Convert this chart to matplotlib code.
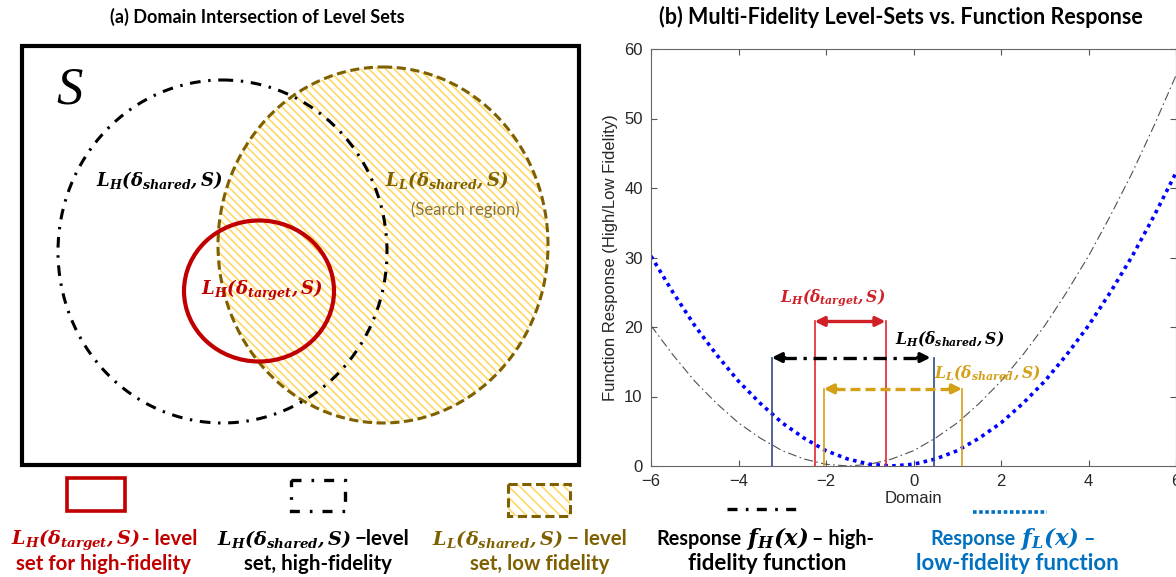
import matplotlib
matplotlib.use('Agg')
import matplotlib.pyplot as plt
from matplotlib.patches import Ellipse, Rectangle

plt.rcParams['mathtext.fontset'] = 'custom'
plt.rcParams['mathtext.rm'] = 'DejaVu Serif'
plt.rcParams['mathtext.it'] = 'DejaVu Serif:italic'
plt.rcParams['mathtext.bf'] = 'DejaVu Serif:bold'
plt.rcParams['mathtext.bfit'] = 'DejaVu Serif:bold:italic'
plt.rcParams['hatch.linewidth'] = 1.2

# ---- data ----
DOMAIN = [-6.0, -5.5, -5.0, -4.5, -4.0, -3.5, -3.0, -2.5, -2.0, -1.5, -1.0, -0.5,
          0.0, 0.5, 1.0, 1.5, 2.0, 2.5, 3.0, 3.5, 4.0, 4.5, 5.0, 5.5, 6.0]
F_HIGH = [20.2, 16.0, 12.2, 9.0, 6.2, 4.0, 2.2, 1.0, 0.25, 0.0, 0.25, 1.0,
          2.2, 4.0, 6.2, 9.0, 12.2, 16.0, 20.2, 25.0, 30.2, 36.0, 42.2, 49.0, 56.2]
F_LOW = [30.2, 25.0, 20.2, 16.0, 12.2, 9.0, 6.2, 4.0, 2.2, 1.0, 0.25, 0.0,
         0.25, 1.0, 2.2, 4.0, 6.2, 9.0, 12.2, 16.0, 20.2, 25.0, 30.2, 36.0, 42.2]

LH_TARGET = [-2.26, -0.64]   # interval ends
LH_TARGET_Y = 20.8
LH_SHARED = [-3.24, 0.47]
LH_SHARED_Y = 15.6
LL_SHARED = [-2.05, 1.11]
LL_SHARED_Y = 11.1

XTICKS = [-6, -4, -2, 0, 2, 4, 6]
YTICKS = [0, 10, 20, 30, 40, 50, 60]

RED = '#C00000'
OLIVE = '#7F6000'
HATCH = '#FFD966'
GOLD = '#D4A017'
NAVY = '#2F4A8A'
BLUE_TXT = '#0070C0'
SANS = 'Lato'

M_TARGET = r'$\mathbfit{L_H(\delta_{target}, S)}$'
M_HSHARED = r'$\mathbfit{L_H(\delta_{shared}, S)}$'
M_LSHARED = r'$\mathbfit{L_L(\delta_{shared}, S)}$'

W, H = 1176, 577
fig = plt.figure(figsize=(W / 100, H / 100), dpi=100)

# overlay in pixel coordinates for the sketch (a) and the legend row
bg = fig.add_axes([0, 0, 1, 1])
bg.set_xlim(0, W)
bg.set_ylim(H, 0)
bg.axis('off')

bg.text(257, 17, '(a) Domain Intersection of Level Sets', ha='center', va='center',
        fontsize=13, fontweight='bold', family=SANS)
bg.text(901, 17, '(b) Multi-Fidelity Level-Sets vs. Function Response', ha='center', va='center',
        fontsize=15.5, fontweight='bold', family=SANS)

bg.add_patch(Rectangle((22, 46), 557, 419, fill=False, lw=3, ec='black'))
# low fidelity set: hatched fill + dashed edge
bg.add_patch(Ellipse((383, 245), 330, 356, fill=False, hatch='\\\\\\\\', ec=HATCH, lw=0))
bg.add_patch(Ellipse((383, 245), 330, 356, fill=False, ec=OLIVE, lw=2.2, ls=(0, (3, 1.5))))
bg.add_patch(Ellipse((222.5, 251.5), 329, 343, fill=False, ec='black', lw=2.2,
                     ls=(0, (3.5, 2.5, 0.8, 2.5))))
bg.add_patch(Ellipse((259, 291), 150, 141, fill=False, ec=RED, lw=3))

bg.text(70, 91, 'S', ha='center', va='center', fontsize=38, style='italic', family='Liberation Serif')
bg.text(159, 180, M_HSHARED, ha='center', va='center', fontsize=13)
bg.text(447, 180, M_LSHARED, ha='center', va='center', fontsize=13, color=OLIVE)
bg.text(465, 210, '(Search region)', ha='center', va='center', fontsize=12, family=SANS, color='#8c7436')
bg.text(262, 290, M_TARGET, ha='center', va='center', fontsize=13, color=RED)

# legend row, left part
bg.add_patch(Rectangle((67, 478), 58, 33, fill=False, ec=RED, lw=2.6))
bg.add_patch(Rectangle((291, 480), 54, 31, fill=False, ec='black', lw=2.4, ls=(0, (3, 3, 0.8, 3))))
bg.add_patch(Rectangle((508, 484), 62, 32, fill=False, hatch='\\\\\\', ec=HATCH, lw=0))
bg.add_patch(Rectangle((508, 484), 62, 32, fill=False, ec=OLIVE, lw=2.2, ls=(0, (3, 1.5))))

L1, L2 = 545, 570
lk = dict(va='baseline', fontsize=14.8, fontweight='bold', family=SANS)
mk = dict(va='baseline', fontsize=13.8)
bg.text(141, L1, M_TARGET, ha='right', color=RED, **mk)
bg.text(142, L1, '- level', ha='left', color=RED, **lk)
bg.text(104, L2, 'set for high-fidelity', ha='center', color=RED, **lk)
bg.text(352, L1, M_HSHARED, ha='right', color='black', **mk)
bg.text(355, L1, '\u2212level', ha='left', color='black', **lk)
bg.text(318, L2, 'set, high-fidelity', ha='center', color='black', **lk)
bg.text(563, L1, M_LSHARED, ha='right', color=OLIVE, **mk)
bg.text(567, L1, '\u2212 level', ha='left', color=OLIVE, **lk)
bg.text(540, L2, 'set, low fidelity', ha='center', color=OLIVE, **lk)

# legend row, right part
rk = dict(va='baseline', fontsize=16, fontweight='bold', family=SANS)
rk1 = dict(rk, fontsize=14.3)
rm = dict(va='baseline', fontsize=16.5)
bg.plot([727, 801], [509, 509], color='black', lw=2.4, ls=(0, (3, 2.5, 0.8, 2.5)))
bg.text(742, L1, 'Response', ha='right', color='black', **rk1)
bg.text(777, L1, r'$\mathbfit{f_H(x)}$', ha='center', color='black', **rm)
bg.text(812, L1, '\u2013 high-', ha='left', color='black', **rk1)
bg.text(767, L2, 'fidelity function', ha='center', color='black', **rk)
bg.plot([973, 1047], [512, 512], color=BLUE_TXT, lw=2.6, ls=(0, (1, 0.7)))
bg.text(1016, L1, 'Response', ha='right', color=BLUE_TXT, **rk1)
bg.text(1050, L1, r'$\mathbfit{f_L(x)}$', ha='center', color=BLUE_TXT, **rm)
bg.text(1083, L1, '\u2013', ha='left', color=BLUE_TXT, **rk1)
bg.text(1017, L2, 'low-fidelity function', ha='center', color=BLUE_TXT, **rk)

# ---- panel (b) ----
ax = fig.add_axes([651 / W, 111 / H, 525 / W, 417 / H])
ax.plot(DOMAIN, F_HIGH, color='#505050', lw=0.8, ls=(0, (8, 3, 1.5, 3)))
ax.plot(DOMAIN, F_LOW, color='#0000FF', lw=2.6, ls=(0, (1, 1.2)))

for x in LH_SHARED:
    ax.plot([x, x], [0, LH_SHARED_Y], color=NAVY, lw=1.2)
for x in LH_TARGET:
    ax.plot([x, x], [0, LH_TARGET_Y], color='#E0262B', lw=1.2)
for x in LL_SHARED:
    ax.plot([x, x], [0, LL_SHARED_Y], color=GOLD, lw=1.2)


def double_arrow(x0, x1, y, color, ls):
    ax.plot([x0 + 0.25, x1 - 0.25], [y, y], color=color, lw=2.4, ls=ls, solid_capstyle='butt')
    for tip, tail in ((x0, x0 + 0.3), (x1, x1 - 0.3)):
        ax.annotate('', xy=(tip, y), xytext=(tail, y),
                    arrowprops=dict(arrowstyle='-|>', color=color, lw=2.4,
                                    mutation_scale=14, shrinkA=0, shrinkB=0))


double_arrow(LH_TARGET[0], LH_TARGET[1], LH_TARGET_Y, '#D01F26', '-')
double_arrow(LH_SHARED[0], LH_SHARED[1] - 0.08, LH_SHARED_Y, 'black', (0, (4, 2, 1, 2)))
double_arrow(LL_SHARED[0], LL_SHARED[1], LL_SHARED_Y, GOLD, (0, (3, 1.5)))

ax.text(-1.85, 24.2, M_TARGET, ha='center', va='center', fontsize=11.2, color='#D01F26')
ax.text(-0.43, 18.3, M_HSHARED, ha='left', va='center', fontsize=11.2, color='black')
ax.text(0.47, 13.3, M_LSHARED, ha='left', va='center', fontsize=11.2, color=GOLD)

ax.set_xlim(-6, 6)
ax.set_ylim(0, 60)
ax.set_xticks(XTICKS)
ax.set_yticks(YTICKS)
ax.tick_params(direction='in', length=4, width=0.8, color='#555555', labelcolor='#262626',
               labelsize=12, top=True, right=True, pad=6)
for lab in ax.get_xticklabels() + ax.get_yticklabels():
    lab.set_family('Liberation Sans')
for s in ax.spines.values():
    s.set_color('#666666')
    s.set_linewidth(0.8)
ax.set_xlabel('Domain', fontsize=12, family='Liberation Sans', color='#262626', labelpad=1)
ax.set_ylabel('Function Response (High/Low Fidelity)', fontsize=12, family='Liberation Sans',
              color='#262626', labelpad=4)

fig.savefig('out.png', dpi=100)
